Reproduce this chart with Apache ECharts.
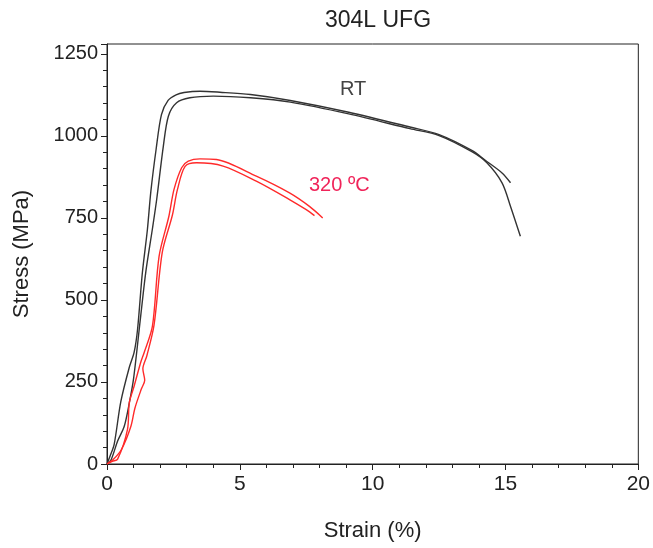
<!DOCTYPE html>
<html>
<head>
<meta charset="utf-8">
<script src="https://cdn.jsdelivr.net/npm/echarts@6/dist/echarts.min.js"></script>
<style>
html,body{margin:0;padding:0;background:#fff;}
#chart{width:653px;height:548px;}
</style>
</head>
<body>
<div id="chart"></div>
<script>
// Strain (%) , Stress (MPa)
const rt1 = [[0,0],[0.12,25],[0.27,60],[0.52,190],[0.84,295],[1.02,340],[1.15,410],[1.33,582],[1.52,714],[1.65,830],[1.85,960],[2.05,1065],[2.3,1108],[2.6,1125],[2.9,1132],[3.5,1136],[4.25,1133],[5.4,1126],[6.9,1108],[9.1,1072],[11.4,1027],[12.5,1004],[13.75,955],[14.25,925],[14.87,887],[15.19,857]];
const rt2 = [[0,0],[0.15,12],[0.4,70],[0.65,115],[0.84,186],[1.0,260],[1.27,452],[1.46,585],[1.71,717],[1.87,806],[2.12,968],[2.31,1060],[2.62,1101],[3.12,1116],[4.0,1121],[5.4,1116],[6.9,1103],[9.1,1067],[11.4,1022],[12.5,1001],[13.75,951],[14.3,918],[14.87,857],[15.19,785],[15.56,694]];
const hot1 = [[0,0],[0.2,8],[0.4,15],[0.77,105],[0.84,187],[1.02,237],[1.27,310],[1.4,340],[1.71,420],[1.96,633],[2.33,755],[2.52,836],[2.81,903],[3.06,923],[3.5,930],[4.12,928],[5.62,877],[6.87,826],[7.62,785],[8.12,750]];
const hot2 = [[0,0],[0.25,15],[0.55,45],[0.9,115],[1.05,170],[1.3,230],[1.42,255],[1.35,290],[1.5,330],[1.77,423],[2.08,645],[2.46,758],[2.65,836],[2.94,907],[3.37,918],[4.37,908],[5.62,862],[6.87,806],[7.5,775],[7.81,757]];
const xTicks = [0,5,10,15,20];
const yTicks = [0,250,500,750,1000,1250];
const titleText = '304L UFG';
const labelRT = 'RT';
const label320 = '320 ºC';

const chart = echarts.init(document.getElementById('chart'));
const font = 'Liberation Sans, Arial, sans-serif';
const lineSeries = (data, color) => ({
  type: 'line', data, showSymbol: false, symbol: 'none', smooth: 0.3,
  lineStyle: {color, width: 1.4}, z: 3
});
chart.setOption({
  animation: false,
  title: {text: titleText, left: 373, top: 4, textAlign: 'center',
    textStyle: {fontFamily: font, fontSize: 23, fontWeight: 'normal', color: '#222'}},
  grid: {left: 107, right: 13, top: 44, bottom: 84, show: true, borderColor: '#222', borderWidth: 1, backgroundColor: 'transparent'},
  xAxis: {
    type: 'value', min: xTicks[0], max: xTicks[xTicks.length-1], interval: 5,
    name: 'Strain (%)', nameLocation: 'middle', nameGap: 56,
    nameTextStyle: {fontFamily: font, fontSize: 22, color: '#222'},
    axisLine: {lineStyle: {color: '#222', width: 1}},
    axisTick: {show: true, inside: false, length: 6, lineStyle: {color: '#222'}},
    minorTick: {show: true, splitNumber: 5, length: 4, lineStyle: {color: '#222'}},
    splitLine: {show: false},
    axisLabel: {fontFamily: font, fontSize: 21, color: '#222', margin: 10}
  },
  yAxis: {
    type: 'value', min: 0, max: 1280, interval: 250,
    name: 'Stress (MPa)', nameLocation: 'middle', nameGap: 74, nameRotate: 90,
    nameTextStyle: {fontFamily: font, fontSize: 22, color: '#222'},
    axisLine: {show: true, lineStyle: {color: '#222', width: 1}},
    axisTick: {show: true, inside: false, length: 6, lineStyle: {color: '#222'}},
    minorTick: {show: true, splitNumber: 5, length: 4, lineStyle: {color: '#222'}},
    splitLine: {show: false},
    axisLabel: {fontFamily: font, fontSize: 20, color: '#222', margin: 9, showMaxLabel: false,
      formatter: v => yTicks.includes(v) ? String(v) : ''}
  },
  series: [
    lineSeries(rt1, '#333'),
    lineSeries(rt2, '#333'),
    lineSeries(hot1, '#ff2a2a'),
    lineSeries(hot2, '#ff2a2a')
  ],
  graphic: [
    {type: 'text', left: 340, top: 79, style: {text: labelRT, font: '20px ' + font, fill: '#444'}},
    {type: 'text', left: 309, top: 175, style: {text: label320, font: '20px ' + font, fill: '#f0245a'}}
  ]
});
</script>
</body>
</html>
